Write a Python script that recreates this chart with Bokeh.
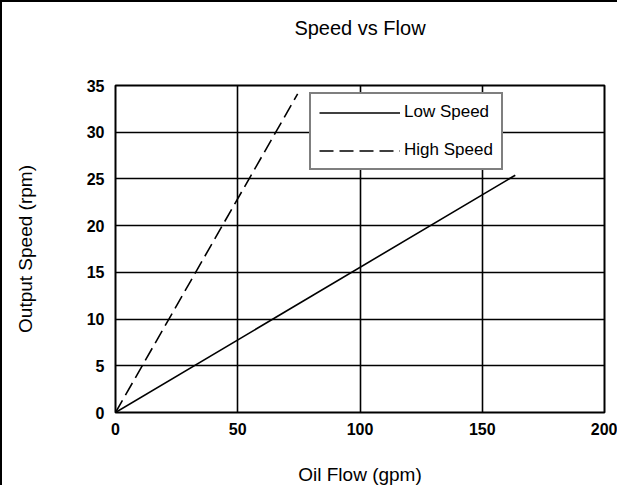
from bokeh.plotting import figure
from bokeh.models import (Range1d, FixedTicker, Legend, LegendItem,
                          LinearAxis)
from bokeh.embed import file_html
from bokeh.resources import INLINE

# Data
low_flow = [0, 163.5]
low_speed = [0, 25.4]
high_flow = [0, 74.5]
high_speed = [0, 34.1]
x_ticks = [0, 50, 100, 150, 200]
y_ticks = [0, 5, 10, 15, 20, 25, 30, 35]
title_text = "Speed vs Flow"
x_label = "Oil Flow (gpm)"
y_label = "Output Speed (rpm)"

FONT = "Liberation Sans"

p = figure(width=617, height=485, output_backend="svg", toolbar_location=None,
           title=None,
           x_range=Range1d(0, 200), y_range=Range1d(0, 35),
           min_border_left=113, min_border_right=15, min_border_top=83,
           min_border_bottom=75)
p.background_fill_color = "white"
p.border_fill_color = "white"
p.outline_line_color = "black"
p.outline_line_width = 2
p.styles = {"border-left": "2px solid black", "border-top": "2px solid black"}

for ax in (p.xaxis[0], p.yaxis[0]):
    ax.axis_line_color = None
    ax.major_tick_line_color = None
    ax.minor_tick_line_color = None
    ax.major_label_text_font = FONT
    ax.major_label_text_font_style = "bold"
    ax.major_label_text_font_size = "16px"
    ax.major_label_text_color = "black"
    ax.axis_label_text_font = FONT
    ax.axis_label_text_font_style = "normal"
    ax.axis_label_text_font_size = "19px"
    ax.axis_label_text_color = "black"

p.xaxis.ticker = FixedTicker(ticks=x_ticks)
p.yaxis.ticker = FixedTicker(ticks=y_ticks)
p.xaxis.axis_label = x_label
p.xaxis.major_label_standoff = 4
p.xaxis.axis_label_standoff = 26
p.yaxis.major_label_standoff = 5


def label_axis(text, size, standoff, bounds, tick):
    # an axis used only to carry a text label at a chosen place
    return LinearAxis(axis_label=text, axis_label_standoff=standoff,
                      axis_label_text_font=FONT,
                      axis_label_text_font_size=size,
                      axis_label_text_font_style="normal",
                      axis_label_text_color="black",
                      bounds=bounds, ticker=FixedTicker(ticks=[tick]),
                      major_label_overrides={tick: ""},
                      major_label_text_font_size="0px",
                      major_label_standoff=0,
                      axis_line_color=None, major_tick_line_color=None,
                      minor_tick_line_color=None,
                      major_tick_in=0, major_tick_out=0)


p.add_layout(label_axis(title_text, "20px", 47, (0, 176.2), 50), "above")
p.add_layout(label_axis(y_label, "19px", 48, (2, 35), 10), "left")

p.xgrid.ticker = FixedTicker(ticks=x_ticks)
p.ygrid.ticker = FixedTicker(ticks=y_ticks)
for g in (p.xgrid[0], p.ygrid[0]):
    g.grid_line_color = "black"
    g.grid_line_width = 1.6
    g.grid_line_alpha = 1

r_low = p.line(low_flow, low_speed, line_color="black", line_width=1.6)
r_high = p.line(high_flow, high_speed, line_color="black", line_width=1.6,
                line_dash="14 6")

legend = Legend(items=[LegendItem(label="Low Speed", renderers=[r_low]),
                       LegendItem(label="High Speed", renderers=[r_high])],
                location=(194, 242), margin=0, padding=8, spacing=18,
                glyph_width=81, glyph_height=19, label_height=19,
                label_standoff=4, label_text_font=FONT,
                label_text_font_size="17px", label_text_color="black",
                border_line_color="black", border_line_width=2,
                background_fill_color="white", background_fill_alpha=1)
p.add_layout(legend, "center")

open("out.html", "w").write(file_html(p, INLINE))
